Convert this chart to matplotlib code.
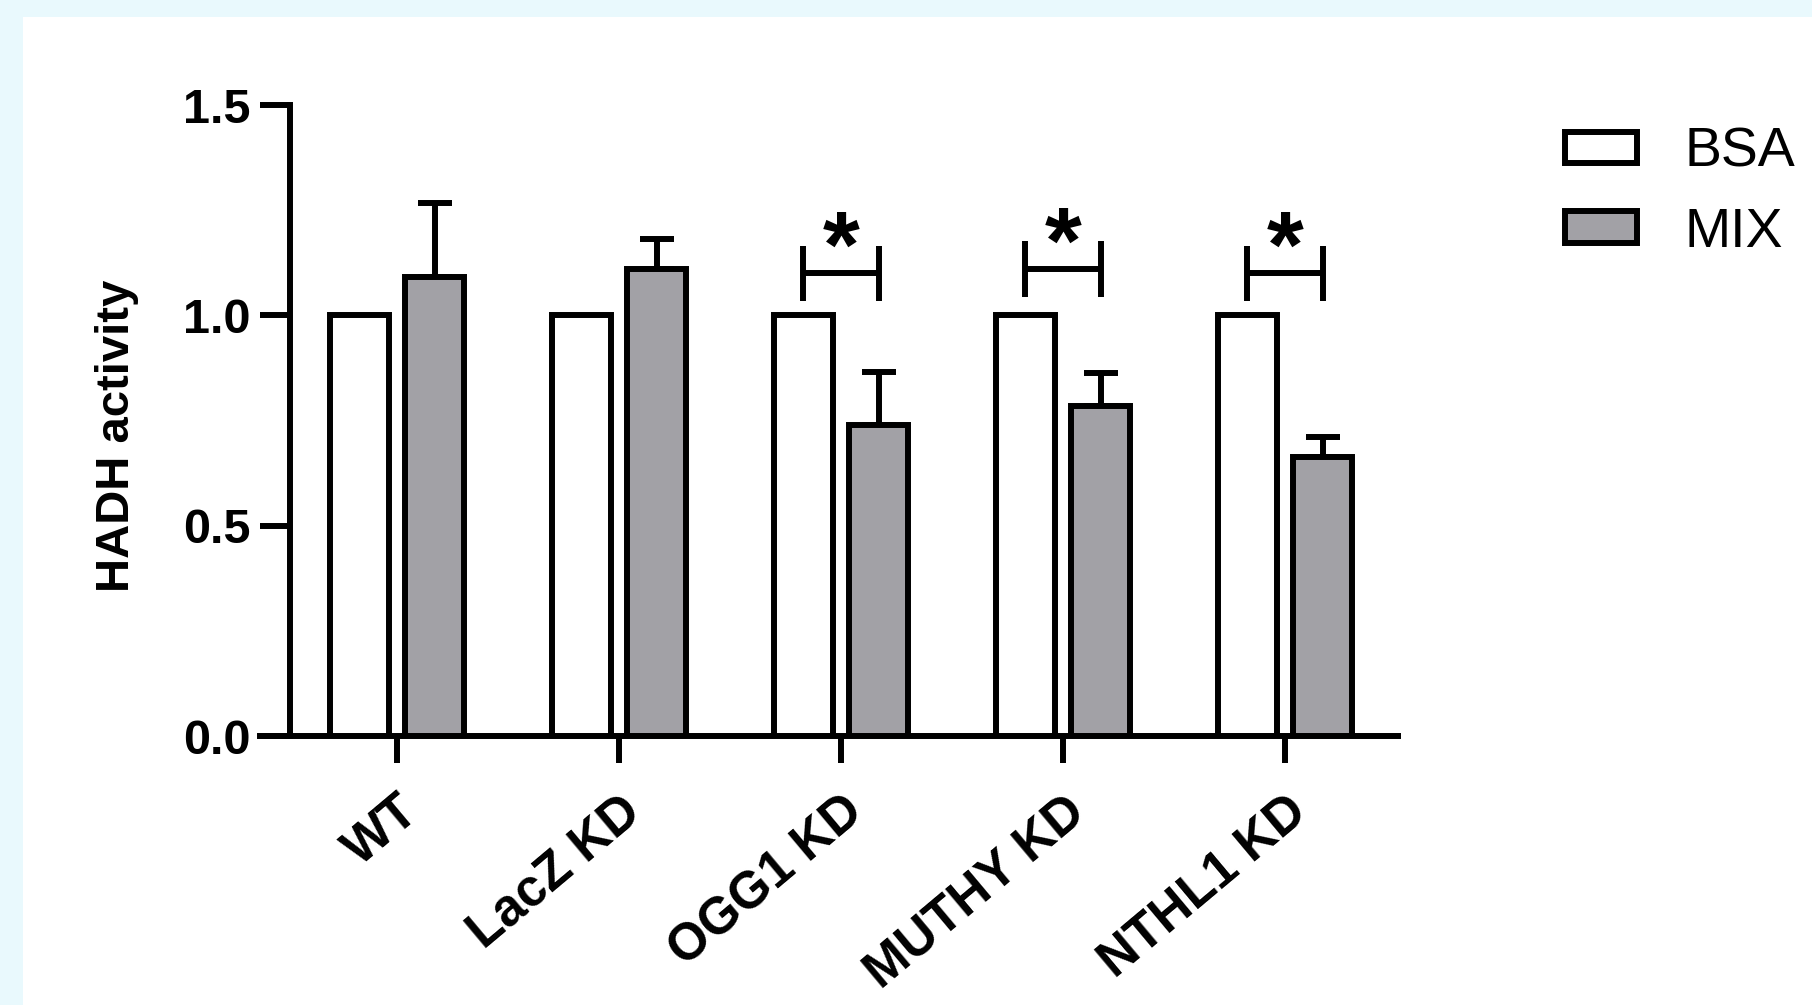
import numpy as np
import matplotlib
matplotlib.use("Agg")
import matplotlib.pyplot as plt
from matplotlib.patches import Rectangle

plt.rcParams['font.family'] = ['Liberation Sans', 'DejaVu Sans']

# HADH activity, normalised to BSA in each line
categories = ['WT', 'LacZ KD', 'OGG1 KD', 'MUTHY KD', 'NTHL1 KD']
bsa = [1.0, 1.0, 1.0, 1.0, 1.0]
mix = [1.092, 1.111, 0.739, 0.784, 0.664]
mix_err = [0.175, 0.071, 0.126, 0.079, 0.047]
series_names = ['BSA', 'MIX']

# groups marked significant (BSA vs MIX)
sig_groups = [2, 3, 4]
sig_heights = [1.10, 1.11, 1.10]

LW = 4.3          # stroke width (pt) for axes, bars, bars' edges
GREY = '#a2a1a6'

fig = plt.figure(figsize=(18.12, 10.05), dpi=100)
fig.patch.set_facecolor('#e9f9fd')
fig.patches.append(Rectangle((23 / 1812, 0), 1, 1 - 17 / 1005,
                             transform=fig.transFigure, facecolor='white',
                             edgecolor='none', zorder=-10))

ax = fig.add_axes([260 / 1812, 1 - 736 / 1005, 1138 / 1812, 631 / 1005])
ax.patch.set_alpha(0)

x = np.arange(len(categories))
off = 0.17
width = 0.266

bars_bsa = ax.bar(x - off, bsa, width, color='white', edgecolor='black',
                  linewidth=LW, label=series_names[0], zorder=3)
bars_mix = ax.bar(x + off, mix, width, color=GREY, edgecolor='black',
                  linewidth=LW, label=series_names[1], zorder=3)
ax.errorbar(x + off, mix, yerr=[np.zeros(len(mix)), mix_err], fmt='none',
            ecolor='black', elinewidth=LW, capsize=12, capthick=LW, zorder=2)

# significance brackets
for g, h in zip(sig_groups, sig_heights):
    x0, x1 = g - off, g + off
    ax.plot([x0, x1], [h, h], color='black', lw=LW, solid_capstyle='butt')
    ax.plot([x0, x0], [h - 0.066, h + 0.066], color='black', lw=LW, solid_capstyle='butt')
    ax.plot([x1, x1], [h - 0.066, h + 0.066], color='black', lw=LW, solid_capstyle='butt')
    ax.text(g, h - 0.008, '*', ha='center', va='baseline', fontsize=68,
            fontweight='bold')

ax.set_xlim(-0.617, 4.509)
ax.set_ylim(0, 1.5)
ax.set_yticks([0.0, 0.5, 1.0, 1.5])
ax.set_yticklabels(['0.0', '0.5', '1.0', '1.5'])
ax.set_xticks(x)
ax.set_xticklabels(categories, rotation=40, ha='right', rotation_mode='anchor')

for side in ['top', 'right']:
    ax.spines[side].set_visible(False)
ax.spines['left'].set_position(('data', -0.482))
ax.spines['left'].set_linewidth(LW)
ax.spines['bottom'].set_linewidth(LW)
ax.spines['left'].set_bounds(0, 1.5)

ax.tick_params(axis='y', length=21.6, width=LW, pad=7, labelsize=35)
ax.tick_params(axis='x', length=19.4, width=LW, pad=17, labelsize=37)
for lab in ax.get_xticklabels() + ax.get_yticklabels():
    lab.set_fontweight('bold')

ylab = ax.set_ylabel('HADH activity', fontsize=34, fontweight='bold')
ylab.set_va('center')
ax.yaxis.set_label_coords((117 - 260) / 1138, 0.475)

ax.legend(handles=[bars_bsa, bars_mix], labels=series_names, frameon=False,
          loc='upper left', bbox_to_anchor=(1565 / 1812, 1 - 127 / 1005),
          bbox_transform=fig.transFigure, fontsize=40, borderpad=0,
          handlelength=1.3, handleheight=0.49, handletextpad=0.85,
          labelspacing=0.5, borderaxespad=0)

fig.savefig('out.png', dpi=100, facecolor=fig.get_facecolor())
